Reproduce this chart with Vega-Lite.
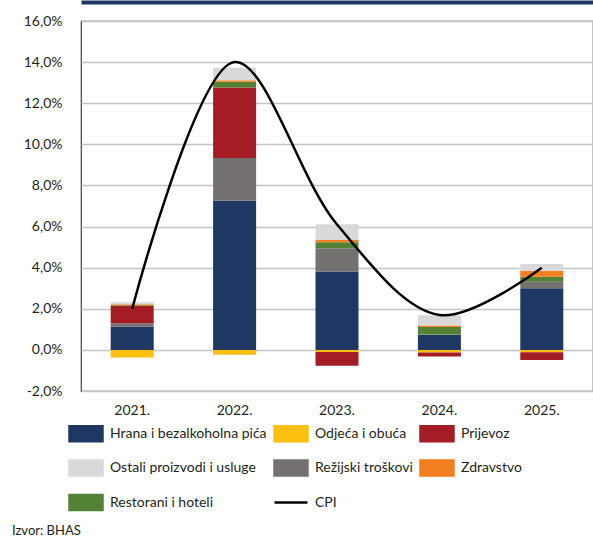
{
  "$schema": "https://vega.github.io/schema/vega-lite/v6.json",
  "width": 512,
  "height": 370,
  "autosize": "none",
  "padding": {"top": 21, "left": 81, "right": 0, "bottom": 146},
  "background": "white",
  "config": {
    "view": {"stroke": "#404040", "strokeWidth": 1.2},
    "font": "Lato",
    "axis": {"labelFont": "Lato", "labelFontSize": 14, "labelColor": "#231f20"}
  },
  "title": {
    "text": "Izvor: BHAS",
    "orient": "bottom",
    "anchor": "start",
    "frame": "group",
    "font": "Lato",
    "fontSize": 13,
    "fontWeight": "normal",
    "color": "#231f20",
    "offset": 9,
    "dx": -69
  },
  "datasets": {
    "bars": [
      {"year": "2021.", "cat": "Hrana i bezalkoholna pića", "value": 1.13},
      {"year": "2021.", "cat": "Odjeća i obuća", "value": -0.37},
      {"year": "2021.", "cat": "Režijski troškovi", "value": 0.17},
      {"year": "2021.", "cat": "Prijevoz", "value": 0.84},
      {"year": "2021.", "cat": "Restorani i hoteli", "value": 0.03},
      {"year": "2021.", "cat": "Zdravstvo", "value": 0.05},
      {"year": "2021.", "cat": "Ostali proizvodi i usluge", "value": 0.1},
      {"year": "2022.", "cat": "Hrana i bezalkoholna pića", "value": 7.25},
      {"year": "2022.", "cat": "Odjeća i obuća", "value": -0.24},
      {"year": "2022.", "cat": "Režijski troškovi", "value": 2.08},
      {"year": "2022.", "cat": "Prijevoz", "value": 3.43},
      {"year": "2022.", "cat": "Restorani i hoteli", "value": 0.29},
      {"year": "2022.", "cat": "Zdravstvo", "value": 0.07},
      {"year": "2022.", "cat": "Ostali proizvodi i usluge", "value": 0.6},
      {"year": "2023.", "cat": "Hrana i bezalkoholna pića", "value": 3.81},
      {"year": "2023.", "cat": "Odjeća i obuća", "value": -0.1},
      {"year": "2023.", "cat": "Režijski troškovi", "value": 1.14},
      {"year": "2023.", "cat": "Prijevoz", "value": -0.67},
      {"year": "2023.", "cat": "Restorani i hoteli", "value": 0.29},
      {"year": "2023.", "cat": "Zdravstvo", "value": 0.11},
      {"year": "2023.", "cat": "Ostali proizvodi i usluge", "value": 0.76},
      {"year": "2024.", "cat": "Hrana i bezalkoholna pića", "value": 0.73},
      {"year": "2024.", "cat": "Odjeća i obuća", "value": -0.13},
      {"year": "2024.", "cat": "Režijski troškovi", "value": 0.02},
      {"year": "2024.", "cat": "Prijevoz", "value": -0.19},
      {"year": "2024.", "cat": "Restorani i hoteli", "value": 0.36},
      {"year": "2024.", "cat": "Zdravstvo", "value": 0.08},
      {"year": "2024.", "cat": "Ostali proizvodi i usluge", "value": 0.49},
      {"year": "2025.", "cat": "Hrana i bezalkoholna pića", "value": 3.0},
      {"year": "2025.", "cat": "Odjeća i obuća", "value": -0.11},
      {"year": "2025.", "cat": "Režijski troškovi", "value": 0.32},
      {"year": "2025.", "cat": "Prijevoz", "value": -0.38},
      {"year": "2025.", "cat": "Restorani i hoteli", "value": 0.24},
      {"year": "2025.", "cat": "Zdravstvo", "value": 0.29},
      {"year": "2025.", "cat": "Ostali proizvodi i usluge", "value": 0.33}
    ],
    "cpi": [
      {"year": "2021.", "cpi": 2.0},
      {"year": "2022.", "cpi": 14.0},
      {"year": "2023.", "cpi": 6.1},
      {"year": "2024.", "cpi": 1.7},
      {"year": "2025.", "cpi": 4.0}
    ]
  },
  "resolve": {"axis": {"x": "independent"}},
  "layer": [
    {
      "data": {"name": "bars"},
      "transform": [
        {"calculate": "indexof(['Hrana i bezalkoholna pića','Odjeća i obuća','Režijski troškovi','Prijevoz','Restorani i hoteli','Zdravstvo','Ostali proizvodi i usluge'], datum.cat)", "as": "ord"}
      ],
      "mark": {"type": "bar"},
      "encoding": {
        "x": {
          "field": "year", "type": "nominal", "sort": null,
          "scale": {"paddingInner": 0.58, "paddingOuter": 0.29},
          "axis": {"title": null, "labelAngle": 0, "domain": false, "ticks": false, "labelPadding": 12, "grid": false}
        },
        "y": {
          "field": "value", "type": "quantitative", "stack": "zero",
          "scale": {"domain": [-2, 16], "nice": false, "zero": false},
          "axis": {
            "title": null, "values": [-2, 0, 2, 4, 6, 8, 10, 12, 14, 16],
            "labelExpr": "datum.value + ',0%'",
            "domain": false, "ticks": false, "tickSize": 0, "labelPadding": 19,
            "grid": true, "gridColor": "#c4c4c4", "gridWidth": 1.3
          }
        },
        "color": {
          "field": "cat", "type": "nominal",
          "scale": {
            "domain": ["Hrana i bezalkoholna pića", "Odjeća i obuća", "Prijevoz", "Ostali proizvodi i usluge", "Režijski troškovi", "Zdravstvo", "Restorani i hoteli", "CPI"],
            "range": ["#1e3863", "#fdc010", "#a51d24", "#d9d9d9", "#767171", "#f47f20", "#548235", "#000000"]
          },
          "legend": {
            "orient": "none", "legendX": -13, "legendY": 394.5, "columns": 3, "direction": "horizontal", "title": null,
            "columnPadding": 2, "rowPadding": 3.5,
            "symbolType": "M-1,-0.4545H1V0.4545H-1Z", "symbolSize": 1089,
            "labelFont": "Lato", "labelFontSize": 14, "labelColor": "#231f20",
            "labelOffset": 6, "labelLimit": 300,
            "encode": {
              "symbols": {
                "update": {
                  "shape": {"signal": "datum.value === 'CPI' ? 'M-1,0H1' : 'M-1,-0.4545H1V0.4545H-1Z'"},
                  "fill": {"signal": "datum.value === 'CPI' ? 'transparent' : scale('color', datum.value)"},
                  "stroke": {"signal": "datum.value === 'CPI' ? '#000000' : 'transparent'"},
                  "strokeWidth": {"value": 2.5},
                  "opacity": {"value": 1}
                }
              }
            }
          }
        },
        "order": {"field": "ord", "type": "quantitative"}
      }
    },
    {
      "mark": {"type": "rule", "color": "#808080", "strokeWidth": 1.3},
      "encoding": {"y": {"datum": 0}}
    },
    {
      "data": {"name": "cpi"},
      "mark": {"type": "line", "interpolate": "catmull-rom", "strokeWidth": 2.5},
      "encoding": {
        "x": {
          "field": "year", "type": "nominal", "sort": null,
          "axis": {"orient": "top", "title": null, "labels": false, "ticks": false, "grid": false, "domain": true, "domainColor": "#1e3863", "domainWidth": 4, "offset": 19}
        },
        "y": {"field": "cpi", "type": "quantitative"},
        "color": {"datum": "CPI"}
      }
    }
  ]
}
